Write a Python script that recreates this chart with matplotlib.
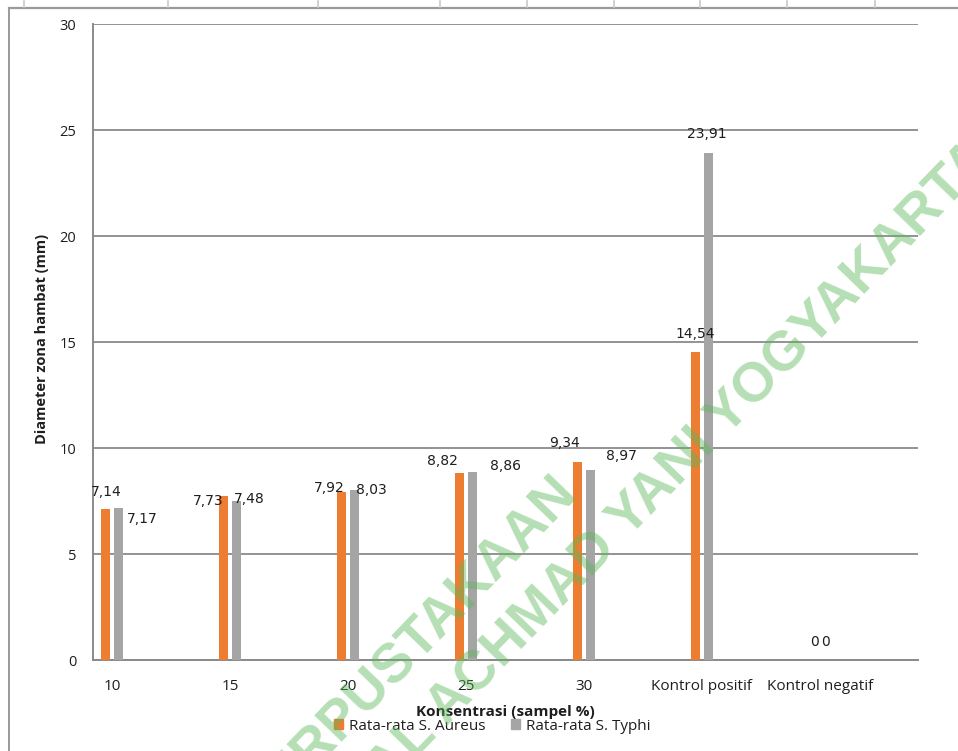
import matplotlib
matplotlib.use("Agg")
import matplotlib.pyplot as plt
from matplotlib.lines import Line2D
from matplotlib.patches import Patch
import numpy as np

categories = ["10", "15", "20", "25", "30", "Kontrol positif", "Kontrol negatif"]
aureus = [7.14, 7.73, 7.92, 8.82, 9.34, 14.54, 0]
typhi = [7.17, 7.48, 8.03, 8.86, 8.97, 23.91, 0]
series_names = ["Rata-rata S. Aureus", "Rata-rata S. Typhi"]
y_ticks = [0, 5, 10, 15, 20, 25, 30]

# label offsets (pixels) relative to bar top, to mimic the manual placement
aureus_off = [(1, 17), (-16, -5), (-12, 4), (-17, 12), (-13, 19), (-1, 18), (1, 18)]
typhi_off = [(24, -11), (13, 2), (17, 0), (33, 6), (31, 14), (-1, 19), (-1, 18)]

W, H = 958, 751
fig = plt.figure(figsize=(W / 100, H / 100), dpi=100)
fig.patch.set_facecolor("white")

L, R, T, B = 93, 918, 24, 660
ax = fig.add_axes([L / W, 1 - B / H, (R - L) / W, (B - T) / H])

orange = "#ED7D31"
gray = "#A5A5A5"
gridc = "#8a8a8a"
txtc = "#1e1e1e"
ui_font = ["Open Sans", "DejaVu Sans"]

x = np.arange(len(categories))
bw = 0.076
off = 0.053
ax.bar(x - off, aureus, bw, color=orange, zorder=3)
ax.bar(x + off, typhi, bw, color=gray, zorder=3)

ax.set_xlim(-19 / 118, 6 + 98 / 118)
ax.set_ylim(0, 30)
ax.set_yticks(y_ticks)
ax.set_yticklabels([str(v) for v in y_ticks])
ax.set_xticks(x)
ax.set_xticklabels(categories)

for s in ["top", "right"]:
    ax.spines[s].set_visible(False)
for s in ["left", "bottom"]:
    ax.spines[s].set_color(gridc)
    ax.spines[s].set_linewidth(1.4)
ax.yaxis.grid(True, color=gridc, linewidth=1.3, zorder=0)
ax.set_axisbelow(True)

ax.tick_params(axis="y", length=0, pad=12, labelsize=10.5, labelcolor=txtc)
ax.tick_params(axis="x", length=0, pad=14, labelsize=11, labelcolor=txtc)
for lab in ax.get_xticklabels() + ax.get_yticklabels():
    lab.set_fontfamily(ui_font)

ax.set_xlabel("Konsentrasi (sampel %)", fontsize=11, fontweight="bold",
              family=ui_font, color=txtc)
ax.xaxis.set_label_coords(0.5, -(712 - B) / (B - T))
ax.xaxis.label.set_va("center")
ax.set_ylabel("Diameter zona hambat (mm)", fontsize=10.5, fontweight="bold",
              family=ui_font, color=txtc)
ax.yaxis.label.set_va("center")
ax.yaxis.set_label_coords(-(L - 42) / (R - L), (B - 339) / (B - T))


def fmt(v):
    return ("%.2f" % v).replace(".", ",") if v != 0 else "0"


for i, v in enumerate(aureus):
    ax.annotate(fmt(v), (x[i] - off, v), xytext=aureus_off[i], textcoords="offset pixels",
                ha="center", va="center", fontsize=10, family="DejaVu Sans",
                color=txtc, zorder=5)
for i, v in enumerate(typhi):
    ax.annotate(fmt(v), (x[i] + off, v), xytext=typhi_off[i], textcoords="offset pixels",
                ha="center", va="center", fontsize=10, family="DejaVu Sans",
                color=txtc, zorder=5)

handles = [Patch(color=orange), Patch(color=gray)]
fig.legend(handles, series_names, loc="center", bbox_to_anchor=(492 / W, 1 - 726 / H),
           ncol=2, frameon=False, handlelength=0.6, handleheight=0.6,
           handletextpad=0.35, columnspacing=1.7, prop=dict(family=ui_font, size=11),
           labelcolor=txtc)

# page frame / ruler marks of the screenshot
fig.add_artist(Line2D([9 / W, 1], [1 - 8 / H, 1 - 8 / H], color="#9a9a9a", lw=1.6))
fig.add_artist(Line2D([9 / W, 9 / W], [0, 1 - 8 / H], color="#9a9a9a", lw=1.4))
for px in [24, 168, 318, 440, 527, 614, 700, 787, 875]:
    fig.add_artist(Line2D([px / W, px / W], [1 - 1 / H, 1 - 7 / H], color="#c8c8c8", lw=1.2))

# watermark
wm = dict(fontsize=40, fontweight="bold", family=["Liberation Sans", "DejaVu Sans"],
          color="#5cb85c", alpha=0.45, rotation=46, rotation_mode="anchor", zorder=10)
fig.text(578 / W, 1 - 494 / H, "PERPUSTAKAAN", ha="right", va="baseline", **wm)
fig.text(995 / W, 1 - 160 / H, "UNIVERSITAS JENDERAL ACHMAD YANI YOGYAKARTA",
         ha="right", va="baseline", **wm)

fig.savefig("out.png", dpi=100, facecolor="white")
